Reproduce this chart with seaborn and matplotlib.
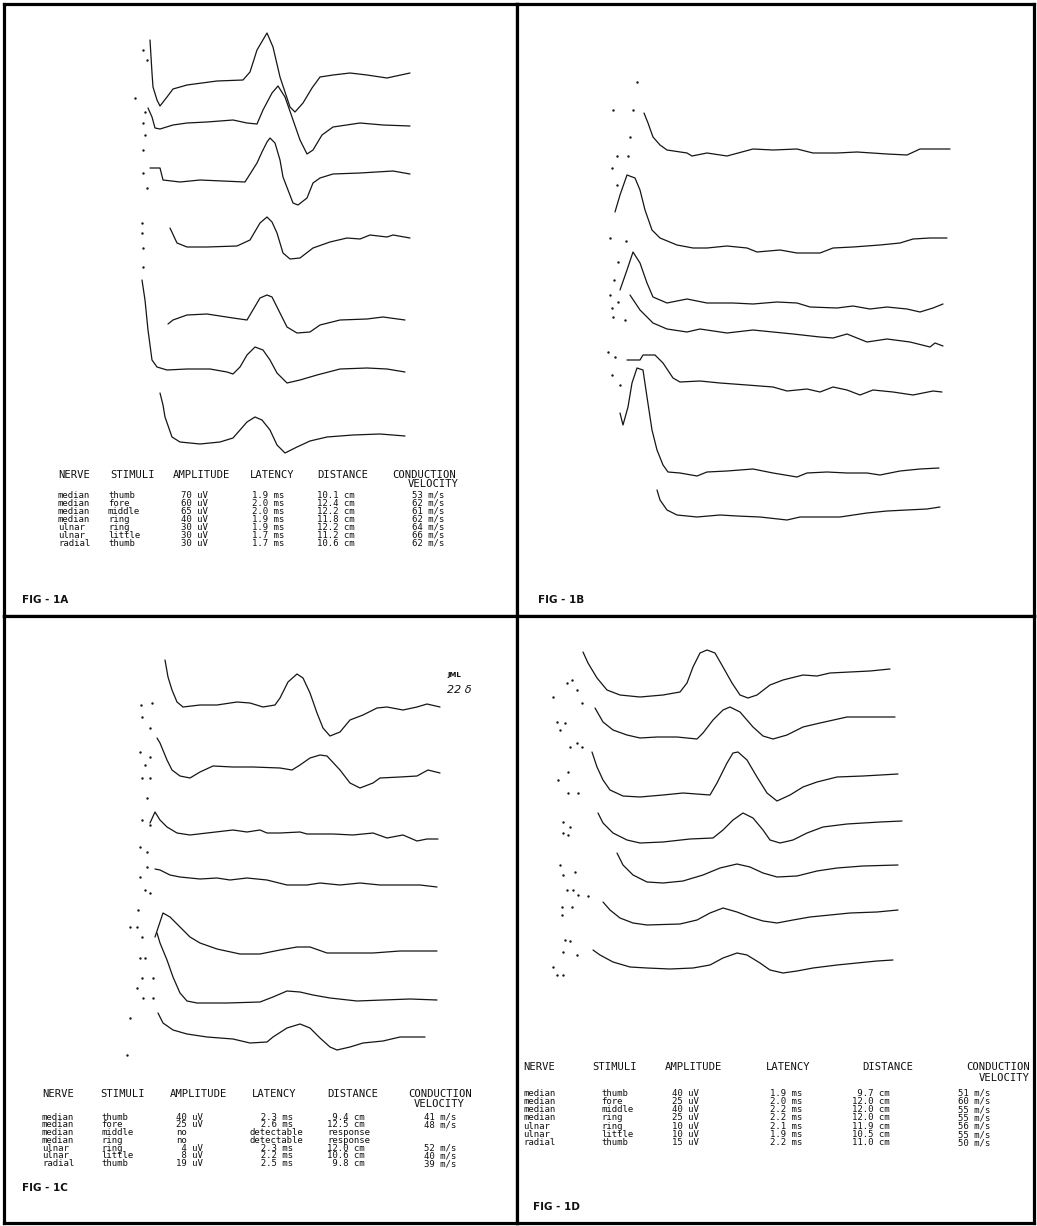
import matplotlib
matplotlib.use("Agg")
import matplotlib.pyplot as plt
import seaborn as sns

# ---------------- DATA (x = time, y = trace level, image units) -------------
# FIG-1A traces
a1_x = [150, 152, 153, 157, 160, 167, 173, 187, 217, 243, 250, 257, 267, 273, 280, 290, 295, 303, 312, 320, 333, 350, 367, 387, 410]
a1_y = [40, 73, 87, 100, 106, 97, 89, 85, 81, 80, 72, 50, 33, 47, 77, 107, 112, 103, 88, 77, 75, 73, 75, 78, 73]
a2_x = [148, 152, 155, 160, 173, 187, 207, 233, 247, 257, 263, 272, 278, 285, 292, 300, 307, 313, 322, 333, 360, 383, 410]
a2_y = [108, 117, 128, 129, 125, 123, 122, 120, 123, 124, 110, 93, 86, 97, 117, 140, 154, 150, 135, 127, 123, 125, 126]
a3_x = [150, 160, 163, 180, 200, 245, 257, 262, 267, 270, 275, 280, 283, 293, 298, 307, 313, 320, 333, 360, 393, 410]
a3_y = [168, 168, 180, 182, 180, 182, 163, 152, 142, 138, 143, 160, 177, 203, 205, 198, 183, 178, 174, 173, 171, 174]
a4_x = [170, 177, 187, 207, 237, 250, 260, 267, 272, 277, 283, 290, 300, 313, 330, 347, 360, 370, 387, 393, 410]
a4_y = [228, 243, 247, 247, 246, 240, 223, 217, 222, 233, 253, 259, 258, 248, 242, 238, 239, 235, 237, 235, 238]
a5_x = [168, 173, 187, 207, 233, 247, 260, 267, 272, 280, 287, 297, 310, 320, 340, 367, 383, 405]
a5_y = [324, 320, 315, 314, 318, 320, 298, 295, 297, 313, 327, 333, 332, 325, 320, 319, 317, 320]
a6_x = [142, 145, 148, 152, 157, 167, 187, 210, 227, 233, 240, 247, 255, 263, 270, 277, 287, 300, 317, 340, 367, 387, 405]
a6_y = [280, 300, 330, 360, 367, 370, 369, 369, 372, 374, 367, 355, 347, 350, 360, 373, 383, 380, 375, 369, 368, 369, 372]
a7_x = [160, 163, 165, 172, 180, 200, 220, 233, 240, 247, 255, 262, 270, 277, 285, 297, 310, 327, 353, 380, 405]
a7_y = [393, 405, 417, 437, 442, 444, 442, 438, 430, 422, 417, 420, 430, 445, 453, 447, 441, 437, 435, 434, 436]
a_dots_x = [135, 143, 145, 143, 145, 143, 143, 147, 142, 142, 143, 143, 147]
a_dots_y = [98, 50, 112, 123, 135, 150, 173, 188, 223, 233, 248, 267, 60]

# FIG-1B traces
b1_x = [644, 648, 653, 660, 667, 687, 692, 707, 727, 753, 773, 797, 813, 837, 857, 887, 907, 920, 950]
b1_y = [113, 123, 137, 145, 150, 153, 156, 153, 156, 149, 150, 149, 153, 153, 152, 154, 155, 149, 149]
b2_x = [615, 620, 627, 635, 640, 645, 652, 660, 677, 693, 707, 727, 747, 757, 780, 797, 820, 833, 853, 880, 900, 913, 930, 947]
b2_y = [212, 195, 175, 178, 190, 210, 230, 238, 245, 248, 248, 246, 248, 252, 250, 253, 253, 248, 247, 245, 243, 239, 238, 238]
b3_x = [620, 627, 633, 640, 647, 653, 667, 687, 707, 733, 753, 777, 797, 810, 837, 853, 870, 887, 907, 920, 933, 943]
b3_y = [290, 270, 252, 263, 283, 297, 303, 299, 303, 303, 304, 302, 303, 307, 308, 306, 309, 307, 309, 312, 308, 304]
b4_x = [630, 640, 653, 667, 687, 700, 727, 753, 773, 793, 820, 833, 847, 867, 887, 910, 930, 935, 943]
b4_y = [295, 310, 323, 329, 332, 329, 333, 330, 332, 334, 337, 338, 334, 342, 339, 342, 347, 343, 346]
b5_x = [627, 640, 643, 655, 663, 673, 680, 700, 720, 747, 773, 787, 807, 820, 833, 847, 860, 873, 893, 913, 933, 942]
b5_y = [360, 360, 355, 355, 363, 378, 382, 381, 383, 385, 387, 391, 389, 392, 387, 390, 395, 390, 392, 395, 391, 392]
b6_x = [620, 623, 628, 632, 637, 643, 647, 652, 657, 663, 668, 680, 697, 707, 727, 753, 773, 797, 807, 827, 847, 867, 880, 900, 920, 939]
b6_y = [413, 425, 407, 383, 368, 370, 397, 430, 450, 465, 472, 473, 476, 472, 471, 469, 473, 477, 473, 472, 473, 473, 475, 471, 469, 468]
b7_x = [657, 660, 667, 677, 697, 720, 737, 760, 787, 800, 820, 840, 867, 887, 907, 927, 940]
b7_y = [490, 500, 510, 515, 517, 515, 516, 517, 520, 517, 517, 517, 513, 511, 510, 509, 507]
b_dots_x = [637, 613, 633, 630, 617, 628, 612, 617, 610, 626, 618, 614, 610, 612, 618, 613, 625, 608, 615, 612, 620]
b_dots_y = [82, 110, 110, 137, 156, 156, 168, 185, 238, 241, 262, 280, 295, 308, 302, 317, 320, 352, 357, 375, 385]

# FIG-1C traces
c1_x = [165, 168, 172, 177, 183, 200, 217, 237, 250, 263, 275, 280, 288, 297, 303, 310, 317, 323, 330, 340, 350, 363, 377, 387, 403, 417, 427, 440]
c1_y = [660, 677, 690, 702, 707, 705, 705, 702, 703, 707, 705, 698, 682, 674, 678, 693, 713, 728, 736, 732, 720, 715, 708, 707, 710, 707, 704, 707]
c2_x = [157, 160, 167, 172, 180, 190, 200, 213, 233, 253, 280, 292, 300, 310, 320, 327, 340, 350, 360, 373, 380, 400, 417, 428, 440]
c2_y = [738, 743, 760, 770, 776, 778, 772, 766, 767, 767, 768, 770, 765, 758, 755, 756, 770, 783, 788, 783, 778, 777, 776, 770, 773]
c3_x = [150, 155, 160, 167, 177, 190, 207, 233, 247, 260, 267, 280, 300, 307, 333, 353, 373, 387, 403, 417, 427, 438]
c3_y = [823, 812, 820, 827, 833, 835, 833, 830, 832, 830, 833, 833, 832, 834, 834, 835, 833, 838, 835, 841, 839, 839]
c4_x = [155, 160, 170, 180, 190, 200, 217, 230, 247, 267, 287, 307, 320, 340, 360, 380, 397, 420, 437]
c4_y = [869, 870, 875, 877, 878, 879, 878, 880, 878, 880, 885, 885, 883, 885, 883, 885, 885, 885, 887]
c5_x = [155, 163, 170, 180, 190, 200, 217, 240, 260, 280, 297, 310, 327, 347, 373, 400, 417, 437]
c5_y = [937, 913, 917, 927, 937, 943, 949, 954, 954, 950, 947, 947, 953, 953, 953, 951, 951, 951]
c6_x = [157, 160, 167, 173, 180, 187, 197, 227, 260, 273, 287, 300, 313, 330, 357, 383, 410, 437]
c6_y = [933, 943, 960, 977, 993, 1001, 1003, 1003, 1002, 997, 991, 992, 995, 998, 1001, 1000, 999, 1000]
c7_x = [158, 163, 173, 187, 207, 233, 250, 267, 273, 287, 300, 310, 320, 330, 337, 350, 363, 383, 400, 413, 425]
c7_y = [1013, 1023, 1030, 1034, 1037, 1039, 1043, 1042, 1037, 1028, 1024, 1028, 1038, 1047, 1050, 1047, 1043, 1041, 1037, 1037, 1037]
c_dots_x = [141, 152, 142, 150, 140, 150, 145, 142, 150, 147, 142, 150, 140, 147, 147, 140, 145, 150, 138, 137, 130, 142, 142, 153, 137, 143, 153, 130, 127, 140, 145]
c_dots_y = [705, 703, 717, 728, 752, 757, 765, 778, 778, 798, 820, 825, 847, 852, 867, 877, 890, 893, 910, 927, 927, 937, 978, 978, 988, 998, 998, 1018, 1055, 958, 958]

# FIG-1D traces
d1_x = [583, 588, 597, 607, 620, 640, 663, 680, 687, 693, 700, 707, 715, 723, 732, 740, 748, 757, 770, 783, 803, 817, 830, 850, 870, 890]
d1_y = [652, 663, 678, 690, 695, 697, 695, 692, 683, 667, 653, 650, 653, 667, 683, 695, 698, 695, 685, 680, 675, 676, 673, 672, 671, 669]
d2_x = [595, 603, 613, 627, 640, 657, 677, 697, 703, 713, 723, 730, 740, 753, 763, 773, 787, 803, 820, 847, 863, 895]
d2_y = [708, 722, 730, 735, 738, 737, 737, 739, 733, 720, 710, 707, 712, 727, 736, 739, 735, 727, 723, 717, 717, 717]
d3_x = [592, 597, 603, 610, 623, 640, 663, 683, 710, 717, 727, 733, 738, 747, 757, 767, 777, 790, 803, 817, 837, 863, 898]
d3_y = [752, 767, 780, 790, 796, 797, 795, 793, 795, 783, 763, 753, 752, 760, 777, 793, 801, 795, 787, 782, 777, 776, 774]
d4_x = [598, 603, 613, 627, 640, 663, 690, 713, 723, 733, 743, 753, 763, 770, 780, 793, 807, 823, 847, 880, 902]
d4_y = [813, 823, 833, 840, 843, 842, 839, 838, 830, 820, 813, 818, 830, 840, 843, 840, 833, 827, 824, 822, 821]
d5_x = [617, 623, 633, 647, 663, 683, 703, 720, 737, 750, 763, 777, 797, 817, 837, 863, 898]
d5_y = [853, 865, 875, 882, 883, 881, 875, 868, 864, 867, 873, 877, 876, 871, 868, 866, 865]
d6_x = [603, 610, 620, 633, 647, 680, 697, 710, 723, 737, 750, 763, 777, 793, 810, 830, 850, 877, 898]
d6_y = [902, 910, 918, 923, 925, 924, 920, 913, 908, 912, 917, 921, 923, 920, 917, 915, 913, 912, 910]
d7_x = [593, 600, 613, 630, 647, 670, 693, 710, 723, 737, 747, 760, 770, 783, 797, 813, 837, 857, 877, 893]
d7_y = [950, 955, 962, 967, 968, 969, 968, 965, 958, 953, 955, 963, 970, 973, 971, 968, 965, 963, 961, 960]
d_dots_x = [553, 567, 572, 577, 582, 557, 560, 565, 570, 577, 582, 558, 568, 568, 578, 563, 570, 563, 568, 560, 563, 575, 567, 573, 578, 588, 562, 562, 572, 565, 570, 563, 577, 553, 557, 563]
d_dots_y = [697, 683, 680, 690, 703, 722, 730, 723, 747, 743, 747, 780, 772, 793, 793, 822, 827, 833, 835, 865, 875, 872, 890, 890, 895, 896, 907, 915, 907, 940, 941, 952, 955, 967, 975, 975]

# Tables
a_nerve = ["median", "median", "median", "median", "ulnar", "ulnar", "radial"]
a_stim = ["thumb", "fore", "middle", "ring", "ring", "little", "thumb"]
a_amp = ["70 uV", "60 uV", "65 uV", "40 uV", "30 uV", "30 uV", "30 uV"]
a_lat = ["1.9 ms", "2.0 ms", "2.0 ms", "1.9 ms", "1.9 ms", "1.7 ms", "1.7 ms"]
a_dist = ["10.1 cm", "12.4 cm", "12.2 cm", "11.8 cm", "12.2 cm", "11.2 cm", "10.6 cm"]
a_vel = ["53 m/s", "62 m/s", "61 m/s", "62 m/s", "64 m/s", "66 m/s", "62 m/s"]

c_nerve = ["median", "median", "median", "median", "ulnar", "ulnar", "radial"]
c_stim = ["thumb", "fore", "middle", "ring", "ring", "little", "thumb"]
c_amp = ["40 uV", "25 uV", "no", "no", " 4 uV", " 8 uV", "19 uV"]
c_lat = ["  2.3 ms", "  2.6 ms", "detectable", "detectable", "  2.3 ms", "  2.2 ms", "  2.5 ms"]
c_dist = [" 9.4 cm", "12.5 cm", "response", "response", "12.0 cm", "10.6 cm", " 9.8 cm"]
c_vel = ["41 m/s", "48 m/s", "", "", "52 m/s", "40 m/s", "39 m/s"]

d_nerve = ["median", "median", "median", "median", "ulnar", "ulnar", "radial"]
d_stim = ["thumb", "fore", "middle", "ring", "ring", "little", "thumb"]
d_amp = ["40 uV", "25 uV", "40 uV", "25 uV", "10 uV", "10 uV", "15 uV"]
d_lat = ["1.9 ms", "2.0 ms", "2.2 ms", "2.2 ms", "2.1 ms", "1.9 ms", "2.2 ms"]
d_dist = [" 9.7 cm", "12.0 cm", "12.0 cm", "12.0 cm", "11.9 cm", "10.5 cm", "11.0 cm"]
d_vel = ["51 m/s", "60 m/s", "55 m/s", "55 m/s", "56 m/s", "55 m/s", "50 m/s"]

headers = ["NERVE", "STIMULI", "AMPLITUDE", "LATENCY", "DISTANCE", "CONDUCTION"]
fig_labels = ["FIG - 1A", "FIG - 1B", "FIG - 1C", "FIG - 1D"]

# ---------------- DRAWING -------------
sns.set_style("white")
plt.rcParams["font.family"] = ["DejaVu Sans"]
W, H = 1037, 1226
fig = plt.figure(figsize=(W / 100, H / 100), dpi=100)
fig.patch.set_facecolor("white")


def panel(x0, x1, y0, y1):
    ax = fig.add_axes([x0 / W, 1 - y1 / H, (x1 - x0) / W, (y1 - y0) / H])
    ax.set_xlim(x0, x1)
    ax.set_ylim(y1, y0)
    ax.set_xticks([])
    ax.set_yticks([])
    for s in ax.spines.values():
        s.set_linewidth(2.3)
        s.set_color("black")
    ax.set_facecolor("white")
    return ax


axA = panel(4, 517, 4, 616)
axB = panel(517, 1034, 4, 616)
axC = panel(4, 517, 616, 1223)
axD = panel(517, 1034, 616, 1223)


def traces(ax, xs_list, ys_list, dx, dy):
    for xs, ys in zip(xs_list, ys_list):
        sns.lineplot(x=xs, y=ys, ax=ax, sort=False, estimator=None,
                     color="#151515", linewidth=0.9)
    sns.scatterplot(x=dx, y=dy, ax=ax, s=3, color="#151515", linewidth=0)


traces(axA, [a1_x, a2_x, a3_x, a4_x, a5_x, a6_x, a7_x],
       [a1_y, a2_y, a3_y, a4_y, a5_y, a6_y, a7_y], a_dots_x, a_dots_y)
traces(axB, [b1_x, b2_x, b3_x, b4_x, b5_x, b6_x, b7_x],
       [b1_y, b2_y, b3_y, b4_y, b5_y, b6_y, b7_y], b_dots_x, b_dots_y)
traces(axC, [c1_x, c2_x, c3_x, c4_x, c5_x, c6_x, c7_x],
       [c1_y, c2_y, c3_y, c4_y, c5_y, c6_y, c7_y], c_dots_x, c_dots_y)
traces(axD, [d1_x, d2_x, d3_x, d4_x, d5_x, d6_x, d7_x],
       [d1_y, d2_y, d3_y, d4_y, d5_y, d6_y, d7_y], d_dots_x, d_dots_y)

mono = "DejaVu Sans Mono"


def table(ax, hx, hy, vx, vy, cx, ry, cols, step):
    for h, x in zip(headers, hx):
        ax.text(x, hy, h, fontsize=7.6, family=mono, va="center", ha="left", color="#111111")
    ax.text(vx, vy, "VELOCITY", fontsize=7.6, family=mono, va="center", ha="left", color="#111111")
    for j, col in enumerate(cols):
        for i, val in enumerate(col):
            ax.text(cx[j], ry + i * step, val, fontsize=6.5, family=mono,
                    va="center", ha="left", color="#111111")


table(axA, [58, 110, 173, 250, 317, 392], 475, 408, 484,
      [58, 108, 181, 252, 317, 412], 495,
      [a_nerve, a_stim, a_amp, a_lat, a_dist, a_vel], 8.0)
table(axC, [42, 100, 170, 252, 327, 408], 1094, 414, 1104,
      [42, 101, 176, 250, 327, 424], 1117,
      [c_nerve, c_stim, c_amp, c_lat, c_dist, c_vel], 7.8)
table(axD, [523, 592, 665, 766, 862, 966], 1067, 979, 1078,
      [523, 601, 672, 770, 852, 958], 1093,
      [d_nerve, d_stim, d_amp, d_lat, d_dist, d_vel], 8.3)

for ax, lab, x, y in [(axA, fig_labels[0], 22, 600), (axB, fig_labels[1], 538, 600),
                      (axC, fig_labels[2], 22, 1188), (axD, fig_labels[3], 533, 1207)]:
    ax.text(x, y, lab, fontsize=7.5, fontweight="bold", va="center", ha="left", color="#111111")

axC.text(447, 675, "JML", fontsize=5, fontweight="bold", ha="left", va="center", color="#111111")
axC.text(447, 690, "22 δ", fontsize=8, style="italic", ha="left", va="center", color="#111111")

fig.savefig("out.png", dpi=100, facecolor="white")
